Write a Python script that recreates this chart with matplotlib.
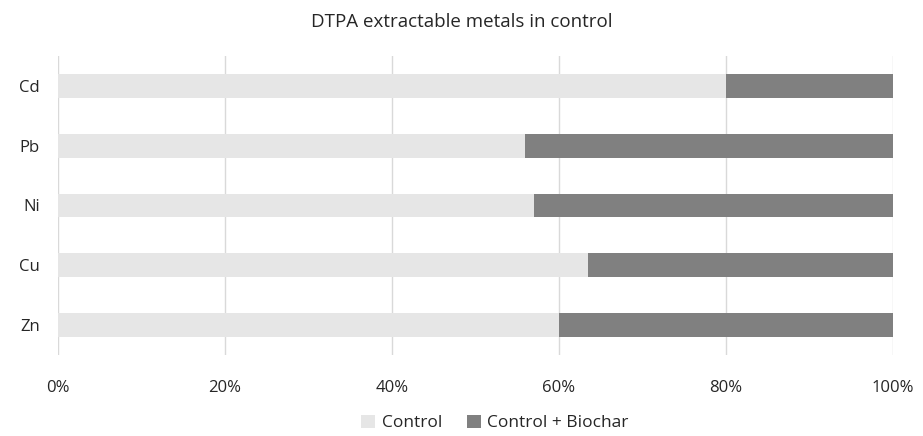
import matplotlib

matplotlib.use("Agg")
import matplotlib.pyplot as plt
from matplotlib.ticker import FuncFormatter

plt.rcParams["font.family"] = ["Open Sans", "DejaVu Sans"]

metals = ["Zn", "Cu", "Ni", "Pb", "Cd"]
control = [60.0, 63.5, 57.0, 55.9, 80.0]
control_biochar = [40.0, 36.5, 43.0, 44.1, 20.0]
ticks = [0, 20, 40, 60, 80, 100]

fig = plt.figure(figsize=(9.23, 4.36), dpi=100)
ax = fig.add_axes([58 / 923, 1 - 355 / 436, (893 - 58) / 923, 299 / 436])

ax.barh(metals, control, height=0.4, color="#E6E6E6", label="Control", zorder=2)
ax.barh(metals, control_biochar, left=control, height=0.4, color="#808080",
        label="Control + Biochar", zorder=2)

ax.set_xlim(0, 100)
ax.set_ylim(-0.5, 4.5)
ax.set_xticks(ticks)
ax.xaxis.set_major_formatter(FuncFormatter(lambda v, _: f"{v:.0f}%"))
ax.grid(axis="x", color="#D9D9D9", linewidth=1, zorder=0)
for s in ax.spines.values():
    s.set_visible(False)
ax.tick_params(length=0, labelsize=12, colors="#262626")
ax.tick_params(axis="x", pad=18)
ax.tick_params(axis="y", pad=13)

fig.suptitle("DTPA extractable metals in control", y=1 - 22 / 436, va="center",
             fontsize=13.5, color="#262626")
fig.legend(loc="center", bbox_to_anchor=(495 / 923, 1 - 423 / 436), ncol=2,
           frameon=False, fontsize=12.5, handlelength=0.8, handleheight=0.8,
           columnspacing=1.4, handletextpad=0.4, labelcolor="#262626")

fig.savefig("out.png", dpi=100)
